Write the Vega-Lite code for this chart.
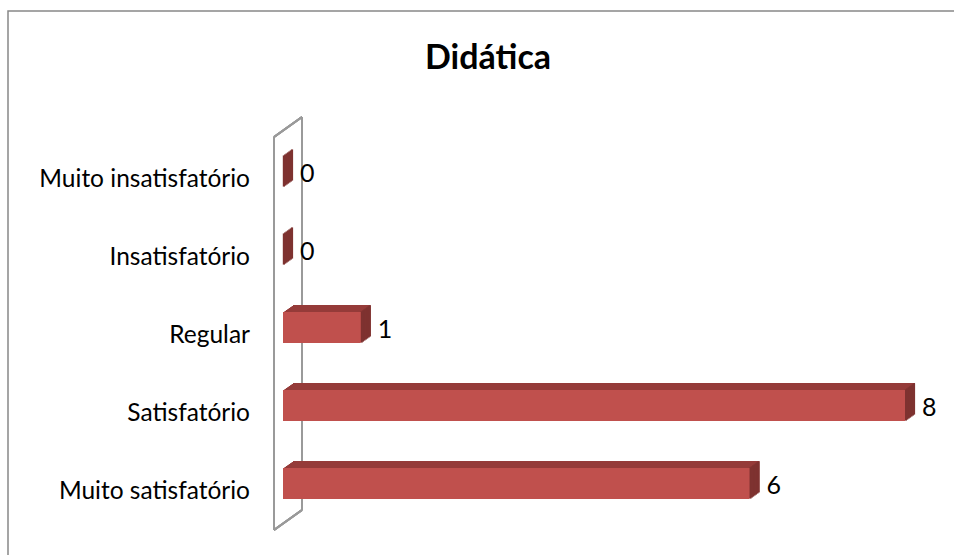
{
  "$schema": "https://vega.github.io/schema/vega-lite/v6.json",
  "autosize": {"type": "none"},
  "padding": {"left": 8, "top": 11, "right": 0, "bottom": 0},
  "width": 960,
  "height": 560,
  "background": "white",
  "config": {
    "view": {"stroke": "#888888", "strokeWidth": 1.5},
    "font": "Lato"
  },
  "title": {
    "text": "Didática",
    "anchor": "middle",
    "frame": "group",
    "offset": -65,
    "fontSize": 34,
    "fontWeight": "bold",
    "font": "Lato",
    "color": "#000000"
  },
  "data": {
    "values": [
      {"categoria": "Muito insatisfatório", "valor": 0},
      {"categoria": "Insatisfatório", "valor": 0},
      {"categoria": "Regular", "valor": 1},
      {"categoria": "Satisfatório", "valor": 8},
      {"categoria": "Muito satisfatório", "valor": 6}
    ]
  },
  "encoding": {
    "y": {
      "field": "categoria",
      "type": "nominal",
      "axis": null,
      "scale": {
        "domain": ["Muito insatisfatório", "Insatisfatório", "Regular", "Satisfatório", "Muito satisfatório"],
        "range": [121.5, 511.5],
        "paddingInner": 0.6,
        "paddingOuter": 0.3
      }
    },
    "x": {
      "field": "valor",
      "type": "quantitative",
      "axis": null,
      "scale": {"domain": [0, 8], "range": [275, 897], "nice": false, "zero": true}
    }
  },
  "layer": [
    {
      "mark": {"type": "tick", "color": "#9A9A9A", "opacity": 1, "thickness": 2, "size": 393, "xOffset": -9, "yOffset": 6},
      "encoding": {"x": {"datum": 0, "type": "quantitative"}, "y": {"datum": "Regular", "type": "nominal"}}
    },
    {
      "mark": {"type": "tick", "color": "#9A9A9A", "opacity": 1, "thickness": 2, "size": 393, "xOffset": 19, "yOffset": -14},
      "encoding": {"x": {"datum": 0, "type": "quantitative"}, "y": {"datum": "Regular", "type": "nominal"}}
    },
    {
      "mark": {"type": "rule", "color": "#9A9A9A", "strokeWidth": 2, "xOffset": -9, "x2Offset": 19, "yOffset": -34.5, "y2Offset": -54.5},
      "encoding": {"x": {"datum": 0, "type": "quantitative"}, "x2": {"datum": 0}, "y": {"datum": "Muito insatisfatório", "type": "nominal"}, "y2": {"datum": "Muito insatisfatório"}}
    },
    {
      "mark": {"type": "rule", "color": "#9A9A9A", "strokeWidth": 2, "xOffset": -9, "x2Offset": 19, "yOffset": 46.5, "y2Offset": 26.5},
      "encoding": {"x": {"datum": 0, "type": "quantitative"}, "x2": {"datum": 0}, "y": {"datum": "Muito satisfatório", "type": "nominal"}, "y2": {"datum": "Muito satisfatório"}}
    },
    {"mark": {"type": "bar", "color": "#953B39", "xOffset": 1.43, "yOffset": -1}},
    {"mark": {"type": "bar", "color": "#953B39", "xOffset": 2.86, "yOffset": -2}},
    {"mark": {"type": "bar", "color": "#953B39", "xOffset": 4.29, "yOffset": -3}},
    {"mark": {"type": "bar", "color": "#953B39", "xOffset": 5.71, "yOffset": -4}},
    {"mark": {"type": "bar", "color": "#953B39", "xOffset": 7.14, "yOffset": -5}},
    {"mark": {"type": "bar", "color": "#953B39", "xOffset": 8.57, "yOffset": -6}},
    {"mark": {"type": "bar", "color": "#953B39", "xOffset": 10, "yOffset": -7}},
    {"mark": {"type": "tick", "color": "#7E3230", "opacity": 1, "size": 31.2, "thickness": 2.2, "xOffset": 0.9, "yOffset": -0.5}},
    {"mark": {"type": "tick", "color": "#7E3230", "opacity": 1, "size": 31.2, "thickness": 2.2, "xOffset": 2.2, "yOffset": -1.5}},
    {"mark": {"type": "tick", "color": "#7E3230", "opacity": 1, "size": 31.2, "thickness": 2.2, "xOffset": 3.6, "yOffset": -2.5}},
    {"mark": {"type": "tick", "color": "#7E3230", "opacity": 1, "size": 31.2, "thickness": 2.2, "xOffset": 5.0, "yOffset": -3.5}},
    {"mark": {"type": "tick", "color": "#7E3230", "opacity": 1, "size": 31.2, "thickness": 2.2, "xOffset": 6.4, "yOffset": -4.5}},
    {"mark": {"type": "tick", "color": "#7E3230", "opacity": 1, "size": 31.2, "thickness": 2.2, "xOffset": 7.8, "yOffset": -5.5}},
    {"mark": {"type": "tick", "color": "#7E3230", "opacity": 1, "size": 31.2, "thickness": 2.2, "xOffset": 9.0, "yOffset": -6.5}},
    {"mark": {"type": "bar", "color": "#C0504D"}},
    {
      "mark": {"type": "text", "align": "left", "baseline": "middle", "dx": 17, "dy": 2, "fontSize": 25, "color": "#000000"},
      "encoding": {"text": {"field": "valor", "type": "quantitative"}}
    },
    {
      "mark": {"type": "text", "align": "right", "baseline": "middle", "dx": -33, "dy": 8, "fontSize": 24.5, "color": "#000000"},
      "encoding": {"x": {"datum": 0}, "text": {"field": "categoria", "type": "nominal"}}
    }
  ]
}
